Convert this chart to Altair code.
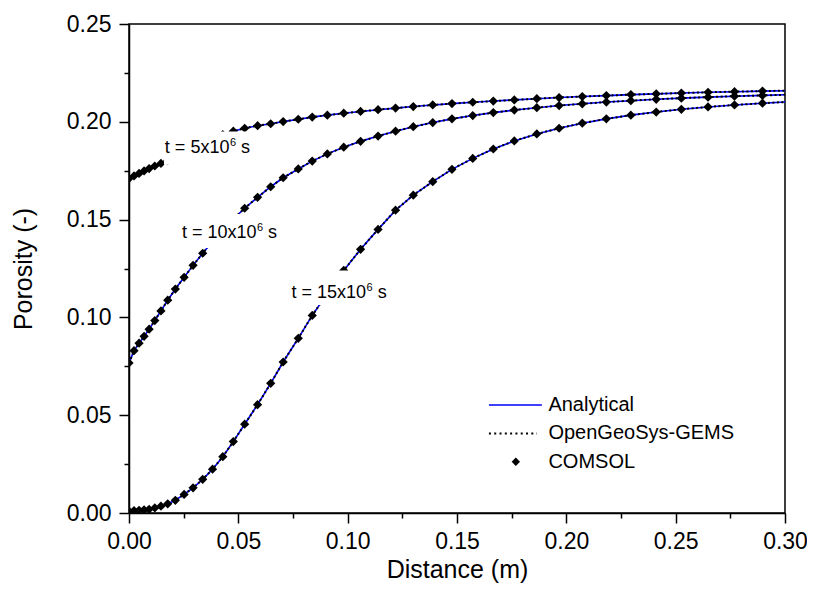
import altair as alt
import pandas as pd

# ---------------- data ----------------
distance = [0.0, 0.0023, 0.0046, 0.0069, 0.0092, 0.0118, 0.0146, 0.0177, 0.0212, 0.0252,
            0.0293, 0.0337, 0.0382, 0.0429, 0.0477, 0.0529, 0.0588, 0.0648, 0.0705, 0.0774,
            0.0838, 0.0907, 0.0982, 0.1059, 0.1139, 0.1219, 0.1300, 0.1389, 0.1477, 0.1572,
            0.1666, 0.1762, 0.1865, 0.1967, 0.2073, 0.2183, 0.2295, 0.2411, 0.2526, 0.2648,
            0.2769, 0.2897, 0.3000]

phi_5e6 = [0.1710, 0.1723, 0.1736, 0.1749, 0.1761, 0.1774, 0.1787, 0.1802, 0.1821, 0.1843,
           0.1866, 0.1890, 0.1913, 0.1934, 0.1952, 0.1967, 0.1980, 0.1990, 0.2001, 0.2013,
           0.2024, 0.2034, 0.2044, 0.2053, 0.2062, 0.2070, 0.2078, 0.2086, 0.2093, 0.2100,
           0.2106, 0.2112, 0.2118, 0.2124, 0.2129, 0.2134, 0.2139, 0.2143, 0.2147, 0.2151,
           0.2154, 0.2157, 0.2159]

phi_10e6 = [0.0767, 0.0830, 0.0868, 0.0903, 0.0940, 0.0984, 0.1033, 0.1088, 0.1145, 0.1205,
            0.1266, 0.1328, 0.1388, 0.1447, 0.1503, 0.1558, 0.1614, 0.1668, 0.1714, 0.1759,
            0.1799, 0.1836, 0.1870, 0.1900, 0.1927, 0.1952, 0.1975, 0.1996, 0.2015, 0.2032,
            0.2047, 0.2060, 0.2072, 0.2083, 0.2092, 0.2101, 0.2108, 0.2115, 0.2121, 0.2126,
            0.2131, 0.2135, 0.2138]

phi_15e6 = [0.0010, 0.0012, 0.0014, 0.0016, 0.0019, 0.0026, 0.0035, 0.0047, 0.0065, 0.0095,
            0.0129, 0.0172, 0.0224, 0.0288, 0.0365, 0.0454, 0.0554, 0.0663, 0.0772, 0.0893,
            0.1010, 0.1123, 0.1240, 0.1348, 0.1450, 0.1548, 0.1625, 0.1694, 0.1757, 0.1813,
            0.1861, 0.1902, 0.1938, 0.1967, 0.1993, 0.2015, 0.2034, 0.2050, 0.2064, 0.2076,
            0.2086, 0.2095, 0.2101]

curve_names = ["t5", "t10", "t15"]
curve_values = [phi_5e6, phi_10e6, phi_15e6]

# curve labels: "t = 5x10" + superscript "6" + " s", with white backgrounds
label_main = ["t = 5x10", "t = 10x10", "t = 15x10"]
label_sup = ["6", "6", "6"]
label_end = ["s", "s", "s"]
label_x = [0.0164, 0.0242, 0.0743]
label_y = [0.1839, 0.1404, 0.1098]
box_x1 = [0.0160, 0.0233, 0.0730]
box_x2 = [0.0580, 0.0700, 0.1200]
box_y1 = [0.1780, 0.1355, 0.1063]
box_y2 = [0.1950, 0.1529, 0.1240]

legend_labels = ["Analytical", "OpenGeoSys-GEMS", "COMSOL"]

x_major = [0.0, 0.05, 0.10, 0.15, 0.20, 0.25, 0.30]
x_minor = [0.025, 0.075, 0.125, 0.175, 0.225, 0.275]
y_major = [0.0, 0.05, 0.10, 0.15, 0.20, 0.25]
y_minor = [0.025, 0.075, 0.125, 0.175, 0.225]

FONT = "Liberation Sans"
LABEL_SIZE = 18
SUP_SIZE = 11

# Arial / Liberation Sans advance widths (em) for measuring the label text
ADV = {"t": 0.278, " ": 0.278, "=": 0.584, "x": 0.5, "s": 0.5}
def text_width(s, size):
    return sum(ADV.get(c, 0.556) for c in s) * size

# ---------------- tables ----------------
rows = []
for name, ys in zip(curve_names, curve_values):
    for x, y in zip(distance, ys):
        rows.append({"curve": name, "x": x, "y": y, "marker": x < 0.2999})
df = pd.DataFrame(rows)
df_markers = df[df["marker"]]

df_labels = pd.DataFrame({
    "main": label_main, "sup": label_sup, "end": label_end,
    "x": label_x, "y": label_y,
    "bx1": box_x1, "bx2": box_x2, "by1": box_y1, "by2": box_y2,
})

leg_x1, leg_x2, leg_xt = 0.1646, 0.1888, 0.1918
leg_y = [0.0552, 0.0407, 0.0262]
df_leg_blue = pd.DataFrame({"x": [leg_x1, leg_x2], "y": [leg_y[0]] * 2})
df_leg_dot = pd.DataFrame({"x": [leg_x1, 0.1866], "y": [leg_y[1]] * 2})
df_leg_pt = pd.DataFrame({"x": [0.1769], "y": [leg_y[2]]})
df_leg_txt = pd.DataFrame({"text": legend_labels, "x": [leg_xt] * 3, "y": leg_y})

xs = alt.Scale(domain=[0, 0.30], nice=False, zero=False)
ys_ = alt.Scale(domain=[0, 0.25], nice=False, zero=False)

major_x_axis = alt.Axis(values=x_major, format=".2f", title="Distance (m)", orient="bottom",
                        tickSize=10, labelPadding=7, titlePadding=4, labelFlush=False)
major_y_axis = alt.Axis(values=y_major, format=".2f", title="Porosity (-)", orient="left",
                        tickSize=10, labelPadding=8, titlePadding=30, labelFlush=False)
minor_x_axis = alt.Axis(values=x_minor, labels=False, domain=False, title=None,
                        orient="bottom", tickSize=5)
minor_y_axis = alt.Axis(values=y_minor, labels=False, domain=False, title=None,
                        orient="left", tickSize=5)

blue = alt.Chart(df).mark_line(color="#0000FF", strokeWidth=1.6, clip=True).encode(
    x=alt.X("x:Q", scale=xs, axis=major_x_axis),
    y=alt.Y("y:Q", scale=ys_, axis=major_y_axis),
    detail="curve:N",
)
dotted = alt.Chart(df).mark_line(color="black", strokeWidth=2, strokeDash=[2, 2.5], clip=True).encode(
    x=alt.X("x:Q", scale=xs, axis=minor_x_axis),
    y=alt.Y("y:Q", scale=ys_, axis=minor_y_axis),
    detail="curve:N",
)
markers = alt.Chart(df_markers).mark_point(shape="diamond", filled=True, color="black",
                                           size=85, opacity=1, clip=True).encode(
    x=alt.X("x:Q", scale=xs, axis=None),
    y=alt.Y("y:Q", scale=ys_, axis=None),
)
boxes = alt.Chart(df_labels).mark_rect(color="white").encode(
    x=alt.X("bx1:Q", scale=xs, axis=None), x2="bx2:Q",
    y=alt.Y("by1:Q", scale=ys_, axis=None), y2="by2:Q",
)

label_layers = []
for i in range(len(label_main)):
    one = df_labels.iloc[[i]]
    w_main = text_width(label_main[i], LABEL_SIZE)
    w_sup = text_width(label_sup[i], SUP_SIZE)
    w_space = text_width(" ", LABEL_SIZE)
    enc = dict(x=alt.X("x:Q", scale=xs, axis=None), y=alt.Y("y:Q", scale=ys_, axis=None))
    label_layers.append(alt.Chart(one).mark_text(
        align="left", baseline="alphabetic", font=FONT, fontSize=LABEL_SIZE, color="black"
    ).encode(text="main:N", **enc))
    label_layers.append(alt.Chart(one).mark_text(
        align="left", baseline="alphabetic", font=FONT, fontSize=SUP_SIZE, color="black",
        dx=w_main + 0.5, dy=-7
    ).encode(text="sup:N", **enc))
    label_layers.append(alt.Chart(one).mark_text(
        align="left", baseline="alphabetic", font=FONT, fontSize=LABEL_SIZE, color="black",
        dx=w_main + w_sup + w_space + 0.5
    ).encode(text="end:N", **enc))

leg_blue = alt.Chart(df_leg_blue).mark_line(color="#0000FF", strokeWidth=1.6).encode(
    x=alt.X("x:Q", scale=xs, axis=None), y=alt.Y("y:Q", scale=ys_, axis=None))
leg_dot = alt.Chart(df_leg_dot).mark_line(color="black", strokeWidth=2, strokeDash=[2, 3.3]).encode(
    x=alt.X("x:Q", scale=xs, axis=None), y=alt.Y("y:Q", scale=ys_, axis=None))
leg_pt = alt.Chart(df_leg_pt).mark_point(shape="diamond", filled=True, color="black",
                                         size=70, opacity=1).encode(
    x=alt.X("x:Q", scale=xs, axis=None), y=alt.Y("y:Q", scale=ys_, axis=None))
leg_txt = alt.Chart(df_leg_txt).mark_text(align="left", baseline="middle", font=FONT,
                                          fontSize=20, color="black").encode(
    x=alt.X("x:Q", scale=xs, axis=None), y=alt.Y("y:Q", scale=ys_, axis=None),
    text="text:N")

chart = alt.layer(blue, dotted, markers, boxes, *label_layers,
                  leg_blue, leg_dot, leg_pt, leg_txt).properties(
    width=656, height=489,
    autosize=alt.AutoSizeParams(type="none"),
    padding={"left": 121, "top": 16, "right": 22, "bottom": 82},
).resolve_axis(x="independent", y="independent").configure_view(
    stroke="black", strokeWidth=1.5
).configure_axis(
    grid=False, domainColor="black", domainWidth=1.5, tickColor="black", tickWidth=1.5,
    labelFont=FONT, labelFontSize=23, labelColor="black",
    titleFont=FONT, titleFontSize=25, titleFontWeight="normal", titleColor="black",
)

chart.save("out.html", embed_options={"renderer": "svg", "actions": False})
